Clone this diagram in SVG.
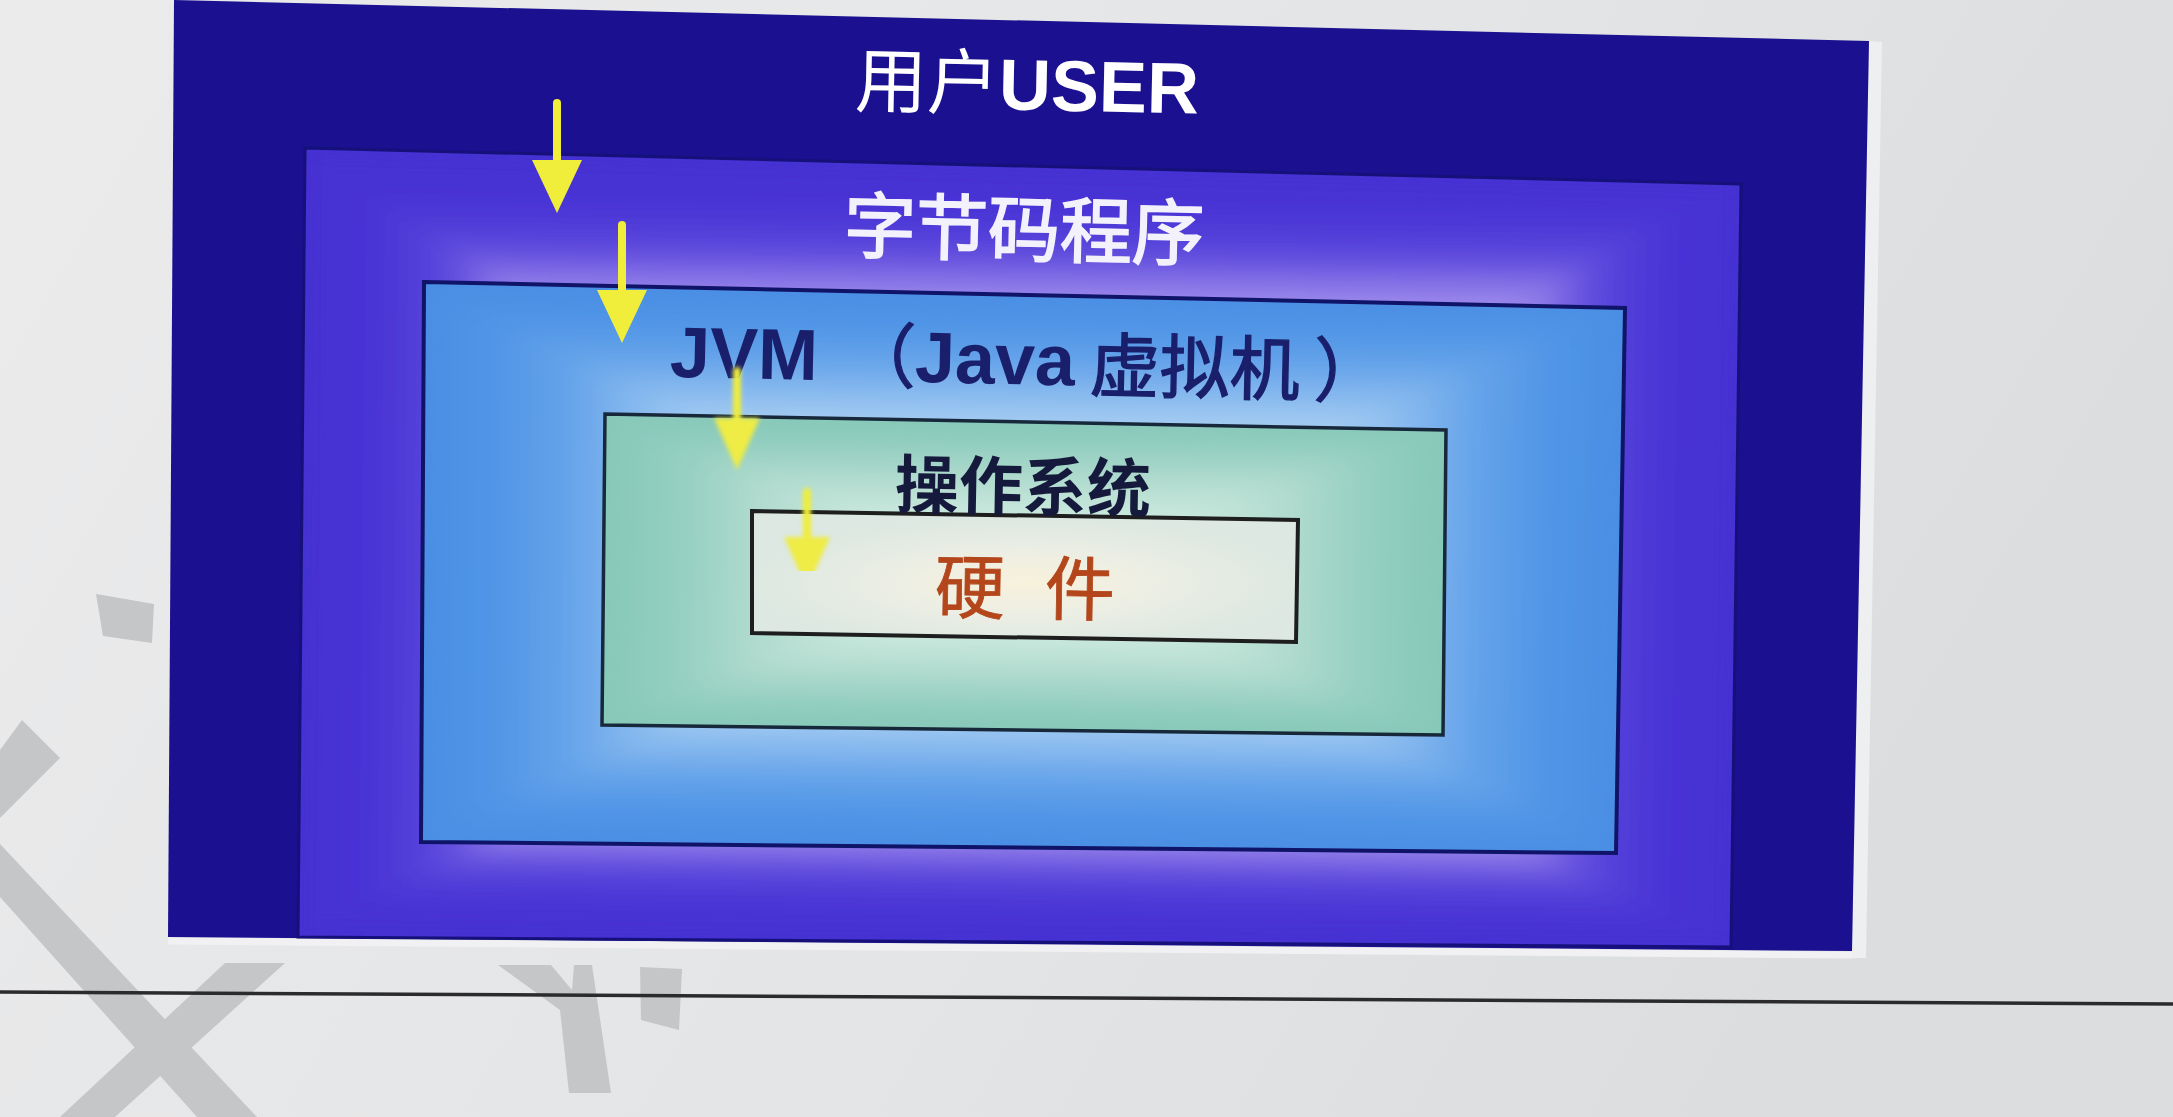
<svg xmlns="http://www.w3.org/2000/svg" width="2173" height="1117" viewBox="0 0 2173 1117">
<style>
.cjk{font-family:'Liberation Sans','Noto Sans CJK SC',sans-serif}
.wm{fill:#c5c6c8}
.arrow{stroke:#f0ee3a;stroke-width:8;stroke-linecap:round;fill:none}
.edge{fill:none;stroke-linejoin:miter}
</style>
<defs>
<linearGradient id="bg" x1="0" y1="0" x2="1" y2="0.3">
<stop offset="0" stop-color="#ebebec"/>
<stop offset="0.6" stop-color="#e4e5e6"/>
<stop offset="1" stop-color="#dcdddf"/>
</linearGradient>
<linearGradient id="pS">
<stop offset="0" stop-color="#4530d2"/>
<stop offset="0.1" stop-color="#4934d5"/>
<stop offset="0.17" stop-color="#5440da"/>
<stop offset="0.22" stop-color="#6652df"/>
<stop offset="0.27" stop-color="#8a76e7"/>
<stop offset="0.35" stop-color="#a898ee"/>
<stop offset="1" stop-color="#cfc6f8"/>
</linearGradient>
<linearGradient id="jS">
<stop offset="0" stop-color="#4a8ee4"/>
<stop offset="0.12" stop-color="#5095e6"/>
<stop offset="0.25" stop-color="#66a4ea"/>
<stop offset="0.4" stop-color="#93c1f0"/>
<stop offset="0.5" stop-color="#acd1f3"/>
<stop offset="1" stop-color="#dff0fa"/>
</linearGradient>
<linearGradient id="oS">
<stop offset="0" stop-color="#86c8b8"/>
<stop offset="0.2" stop-color="#96d0c2"/>
<stop offset="0.35" stop-color="#aedacd"/>
<stop offset="0.6" stop-color="#cae8dd"/>
<stop offset="1" stop-color="#e6f4ee"/>
</linearGradient>
<linearGradient id="pT" href="#pS" gradientUnits="userSpaceOnUse" x1="1023" y1="166" x2="1019" y2="600"/>
<linearGradient id="pB" href="#pS" gradientUnits="userSpaceOnUse" x1="1014" y1="942" x2="1019" y2="600"/>
<linearGradient id="pL" href="#pS" gradientUnits="userSpaceOnUse" x1="301" y1="542" x2="1019" y2="549"/>
<linearGradient id="pR" href="#pS" gradientUnits="userSpaceOnUse" x1="1736" y1="565" x2="1019" y2="556"/>
<linearGradient id="jT" href="#jS" gradientUnits="userSpaceOnUse" x1="1024" y1="295" x2="1021" y2="571"/>
<linearGradient id="jB" href="#jS" gradientUnits="userSpaceOnUse" x1="1018" y1="847" x2="1021" y2="571"/>
<linearGradient id="jL" href="#jS" gradientUnits="userSpaceOnUse" x1="422" y1="562" x2="1021" y2="565"/>
<linearGradient id="jR" href="#jS" gradientUnits="userSpaceOnUse" x1="1620" y1="580" x2="1021" y2="571"/>
<linearGradient id="oT" href="#oS" gradientUnits="userSpaceOnUse" x1="1025" y1="422" x2="1024" y2="576"/>
<linearGradient id="oB" href="#oS" gradientUnits="userSpaceOnUse" x1="1022" y1="730" x2="1024" y2="576"/>
<linearGradient id="oL" href="#oS" gradientUnits="userSpaceOnUse" x1="603" y1="569" x2="1024" y2="574"/>
<linearGradient id="oR" href="#oS" gradientUnits="userSpaceOnUse" x1="1444" y1="582" x2="1024" y2="578"/>
<radialGradient id="gHw" cx="0.5" cy="0.55" r="0.5" gradientUnits="objectBoundingBox">
<stop offset="0" stop-color="#f8f1dc"/>
<stop offset="0.5" stop-color="#eceee4"/>
<stop offset="1" stop-color="#dce8e1"/>
</radialGradient>
<clipPath id="cP"><polygon points="305,148 1741,184 1731,947 298,937"/></clipPath>
<clipPath id="cJ"><polygon points="424,282 1625,308 1616,853 421,842"/></clipPath>
<clipPath id="cO"><polygon points="605,414 1446,430 1443,735 602,725"/></clipPath>
<filter id="smooth" x="-5%" y="-5%" width="110%" height="110%">
<feGaussianBlur stdDeviation="12"/>
</filter>
<marker id="head" markerUnits="userSpaceOnUse" markerWidth="54" markerHeight="50" refX="0" refY="25" orient="auto" viewBox="0 0 54 50">
<path d="M0,0 L53,25 L0,50 Z" fill="#f0ee3a"/>
</marker>
<marker id="headS" markerUnits="userSpaceOnUse" markerWidth="54" markerHeight="46" refX="0" refY="23" orient="auto" viewBox="0 0 54 46">
<path d="M0,0 L52,23 L0,46 Z" fill="#eeec44"/>
</marker>
<filter id="soft" x="-50%" y="-20%" width="200%" height="140%">
<feGaussianBlur stdDeviation="2.2"/>
</filter>
</defs>

<rect width="2173" height="1117" fill="url(#bg)"/>
<polygon points="1869,41 1882,42 1866,958 1852,958" fill="#eeeff0"/>
<line x1="168" y1="941" x2="1852" y2="955" stroke="#f1f1f3" stroke-width="7"/>

<g id="watermark">
<polygon class="wm" points="96,594 154,604 152,643 103,636"/>
<polygon class="wm" points="22,720 60,758 0,818 0,750"/>
<polygon class="wm" points="0,844 257,1117 197,1117 0,897"/>
<polygon class="wm" points="225,963 285,963 115,1117 60,1117"/>
<polygon class="wm" points="498,965 551,965 572,990 574,965 592,965 611,1093 569,1093 560,1010"/>
<polygon class="wm" points="640,967 682,969 679,1030 641,1020"/>
</g>

<line x1="0" y1="992" x2="2173" y2="1004" stroke="#2b2b2d" stroke-width="3.5"/>

<g id="user">
<polygon points="174,0 1869,41 1852,951 168,937" fill="#1b1090"/>
<text class="cjk" x="855" y="110" font-size="72" fill="#ffffff" transform="rotate(1.2 1030 90)"><tspan>用户</tspan><tspan font-weight="bold">USER</tspan></text>
</g>

<g id="bytecode">
<polygon points="305,148 1741,184 1731,947 298,937" fill="#4530d2"/>
<g clip-path="url(#cP)">
<g filter="url(#smooth)">
<polygon points="305,148 1741,184 1019,600" fill="url(#pT)"/>
<polygon points="1741,184 1731,947 1019,600" fill="url(#pR)"/>
<polygon points="1731,947 298,937 1019,600" fill="url(#pB)"/>
<polygon points="298,937 305,148 1019,600" fill="url(#pL)"/>
</g>
</g>
<polygon class="edge" points="305,148 1741,184 1731,947 298,937" stroke="#16107a" stroke-width="3"/>
<text class="cjk" x="844" y="256" font-size="72" fill="#f3f1fb" stroke="#f3f1fb" stroke-width="1.8" transform="rotate(1.3 1028 230)">字节码程序</text>
</g>

<g id="jvm">
<polygon points="424,282 1625,308 1616,853 421,842" fill="#4a8ee4"/>
<g clip-path="url(#cJ)">
<g filter="url(#smooth)">
<polygon points="424,282 1625,308 1021,571" fill="url(#jT)"/>
<polygon points="1625,308 1616,853 1021,571" fill="url(#jR)"/>
<polygon points="1616,853 421,842 1021,571" fill="url(#jB)"/>
<polygon points="421,842 424,282 1021,571" fill="url(#jL)"/>
</g>
</g>
<polygon class="edge" points="424,282 1625,308 1616,853 421,842" stroke="#0f1468" stroke-width="4"/>
<text class="cjk" y="384" fill="#1a1f6c" transform="rotate(1.2 1005 360)"><tspan x="670" font-size="72" font-weight="bold">JVM</tspan><tspan x="846" font-size="70" stroke="#1a1f6c" stroke-width="1.2">（</tspan><tspan x="915" font-size="72" font-weight="bold">Java</tspan><tspan x="1090" y="389" font-size="70" stroke="#1a1f6c" stroke-width="1.4">虚拟机</tspan><tspan x="1314" y="389" font-size="70" stroke="#1a1f6c" stroke-width="1.2">）</tspan></text>
</g>

<g id="os">
<polygon points="605,414 1446,430 1443,735 602,725" fill="#86c8b8"/>
<g clip-path="url(#cO)">
<g filter="url(#smooth)">
<polygon points="605,414 1446,430 1024,576" fill="url(#oT)"/>
<polygon points="1446,430 1443,735 1024,576" fill="url(#oR)"/>
<polygon points="1443,735 602,725 1024,576" fill="url(#oB)"/>
<polygon points="602,725 605,414 1024,576" fill="url(#oL)"/>
</g>
</g>
<polygon class="edge" points="605,414 1446,430 1443,735 602,725" stroke="#17283a" stroke-width="3.5"/>
</g>

<g id="hardware">
<polygon points="752,511 1298,520 1296,642 752,633" fill="url(#gHw)" stroke="#1e1e1e" stroke-width="4"/>
<text class="cjk" x="935 1005 1045" y="614" font-size="70" fill="#b4461c" stroke="#b4461c" stroke-width="0.8" transform="rotate(0.9 1025 585)">硬 件</text>
</g>

<g id="os-label">
<text class="cjk" x="895" y="510" font-size="64" font-weight="bold" fill="#15193c" transform="rotate(1 1025 485)">操作系统</text>
</g>

<g id="connectors">
<line class="arrow" x1="557" y1="103" x2="557" y2="160" marker-end="url(#head)"/>
<line class="arrow" x1="622" y1="225" x2="622" y2="290" marker-end="url(#head)"/>
<g filter="url(#soft)">
<line class="arrow" x1="737" y1="371" x2="737" y2="418" marker-end="url(#headS)" stroke="#eeec44"/>
<line class="arrow" x1="807" y1="492" x2="807" y2="537" marker-end="url(#headS)" stroke="#eeec44"/>
</g>
</g>
</svg>
